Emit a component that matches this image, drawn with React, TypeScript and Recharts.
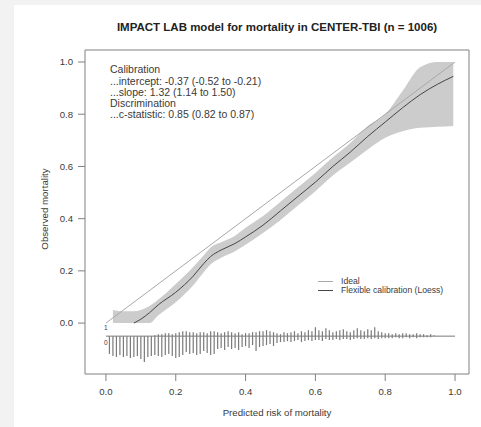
import { ComposedChart, Area, Line, XAxis, YAxis, ReferenceLine, ReferenceArea, Legend } from 'recharts'

// calibration curve (loess) with confidence band
const calX = [0.02, 0.05, 0.08, 0.1, 0.125, 0.15, 0.2, 0.25, 0.28, 0.3, 0.33, 0.37, 0.4, 0.45, 0.5, 0.55, 0.6, 0.65, 0.7, 0.75, 0.8, 0.85, 0.9, 0.95, 0.995]
const bandLo = [0, 0, 0, 0, 0, 0.03, 0.08, 0.145, 0.195, 0.225, 0.25, 0.275, 0.3, 0.345, 0.395, 0.45, 0.505, 0.565, 0.615, 0.665, 0.71, 0.735, 0.748, 0.752, 0.755]
const bandHi = [0.05, 0.045, 0.045, 0.05, 0.065, 0.09, 0.15, 0.215, 0.26, 0.29, 0.31, 0.335, 0.365, 0.41, 0.465, 0.52, 0.575, 0.635, 0.69, 0.755, 0.8, 0.89, 0.98, 1.0, 1.0]
const loess = [null, null, 0, 0.015, 0.04, 0.07, 0.118, 0.18, 0.228, 0.255, 0.28, 0.305, 0.33, 0.375, 0.43, 0.485, 0.54, 0.6, 0.655, 0.715, 0.77, 0.825, 0.875, 0.915, 0.945]

const idealX = [0, 1]
const idealY = [0, 1]

// rug of predicted risks, per 0.01 bin: deaths up (1), survivors down (0)
const rugX = [
  0.01, 0.02, 0.03, 0.04, 0.05, 0.06, 0.07, 0.08, 0.09, 0.1,
  0.11, 0.12, 0.13, 0.14, 0.15, 0.16, 0.17, 0.18, 0.19, 0.2,
  0.21, 0.22, 0.23, 0.24, 0.25, 0.26, 0.27, 0.28, 0.29, 0.3,
  0.31, 0.32, 0.33, 0.34, 0.35, 0.36, 0.37, 0.38, 0.39, 0.4,
  0.41, 0.42, 0.43, 0.44, 0.45, 0.46, 0.47, 0.48, 0.49, 0.5,
  0.51, 0.52, 0.53, 0.54, 0.55, 0.56, 0.57, 0.58, 0.59, 0.6,
  0.61, 0.62, 0.63, 0.64, 0.65, 0.66, 0.67, 0.68, 0.69, 0.7,
  0.71, 0.72, 0.73, 0.74, 0.75, 0.76, 0.77, 0.78, 0.79, 0.8,
  0.81, 0.82, 0.83, 0.84, 0.85, 0.86, 0.87, 0.88, 0.89, 0.9,
  0.91, 0.92, 0.93, 0.94, 0.95,
]
const rugDown = [
  18, 20, 21, 19, 21, 20, 22, 21, 20, 23,
  26, 21, 20, 19, 20, 21, 19, 18, 20, 22,
  21, 19, 16, 18, 17, 19, 18, 15, 17, 19,
  18, 13, 12, 14, 11, 13, 12, 14, 11, 10,
  12, 9, 15, 11, 10, 9, 8, 10, 7, 6,
  6, 5, 6, 5, 4, 6, 5, 4, 5, 4,
  4, 5, 3, 4, 4, 3, 4, 3, 3, 4,
  3, 2, 3, 3, 2, 3, 2, 3, 2, 2,
  2, 2, 1, 2, 2, 1, 2, 1, 2, 1,
  1, 1, 1, 0, 0,
]
const rugUp = [
  0, 0, 0, 0, 0, 0, 0, 0, 0, 0,
  0, 0, 0, 1, 2, 2, 3, 3, 2, 3,
  4, 5, 5, 4, 4, 3, 4, 4, 3, 5,
  5, 4, 3, 4, 5, 4, 3, 4, 2, 3,
  3, 4, 4, 5, 5, 6, 5, 4, 3, 2,
  4, 3, 4, 5, 3, 5, 4, 6, 5, 9,
  6, 5, 8, 6, 4, 5, 6, 7, 5, 4,
  6, 8, 6, 5, 7, 6, 9, 5, 4, 3,
  3, 2, 3, 2, 3, 3, 2, 2, 3, 2,
  2, 1, 2, 1, 0,
]

const ticks = [0, 0.2, 0.4, 0.6, 0.8, 1]
const legendOrder = ['Ideal', 'Flexible calibration (Loess)']
const statLines = [
  'Calibration',
  '...intercept: -0.37 (-0.52 to -0.21)',
  '...slope: 1.32 (1.14 to 1.50)',
  'Discrimination',
  '...c-statistic: 0.85 (0.82 to 0.87)',
]

const RUG_BASE = -0.05
const RUG_UNIT = 0.0038
const FONT = '"Liberation Sans", Arial, sans-serif'
const TEXT = '#3a3a3a'
const BOX = '#808080'
const RUG = '#7a7a7a'

const data = calX.map((x, i) => ({ x, band: [bandLo[i], bandHi[i]], loess: loess[i] }))
const idealData = idealX.map((x, i) => ({ x, y: idealY[i] }))

function LegendBox({ payload }: any) {
  const items = (payload || [])
    .filter((p: any) => legendOrder.includes(p.value))
    .sort((a: any, b: any) => legendOrder.indexOf(a.value) - legendOrder.indexOf(b.value))
  return (
    <div style={{ fontFamily: FONT, fontSize: 8.6, color: TEXT, lineHeight: '9px' }}>
      {items.map((p: any) => (
        <div key={p.value} style={{ display: 'flex', alignItems: 'center', height: 9 }}>
          <span style={{ width: 15, borderTop: `1px solid ${p.color}`, marginRight: 8 }} />
          <span>{p.value}</span>
        </div>
      ))}
    </div>
  )
}

export default function App() {
  const tickStyle = { fontSize: 9.6, fill: TEXT, fontFamily: FONT }
  return (
    <div style={{ position: 'absolute', left: 0, top: 0, width: 481, height: 427, background: '#f2f2f2', fontFamily: FONT }}>
      <div style={{ position: 'absolute', left: 14, top: 5, width: 467, height: 422, background: '#ffffff' }}>
        <ComposedChart width={467} height={422} data={data} margin={{ top: 45, right: 12, bottom: 23, left: 31 }}>
          <XAxis
            type="number"
            dataKey="x"
            domain={[-0.06, 1.04]}
            ticks={ticks}
            tickFormatter={(v: number) => v.toFixed(1)}
            axisLine={false}
            tickSize={7}
            tickMargin={7}
            tickLine={{ stroke: BOX }}
            tick={tickStyle}
            height={30}
            allowDataOverflow
          />
          <YAxis
            type="number"
            domain={[-0.195, 1.046]}
            ticks={ticks}
            tickFormatter={(v: number) => v.toFixed(1)}
            axisLine={false}
            tickSize={7}
            tickMargin={5}
            tickLine={{ stroke: BOX }}
            tick={tickStyle}
            width={40}
            allowDataOverflow
          />
          <Area
            dataKey="band"
            name="band"
            type="monotone"
            stroke="none"
            fill="#cccccc"
            fillOpacity={1}
            legendType="none"
            isAnimationActive={false}
          />
          <Line
            data={idealData}
            dataKey="y"
            name="Ideal"
            type="linear"
            stroke="#a8a8a8"
            strokeWidth={1}
            dot={false}
            isAnimationActive={false}
          />
          <Line
            dataKey="loess"
            name="Flexible calibration (Loess)"
            type="monotone"
            stroke="#454545"
            strokeWidth={1}
            dot={false}
            isAnimationActive={false}
          />
          <ReferenceLine
            segment={[{ x: 0, y: RUG_BASE }, { x: 1, y: RUG_BASE }]}
            stroke={RUG}
            strokeWidth={1}
            ifOverflow="visible"
          />
          {rugX.map((x, i) =>
            rugDown[i] > 0 ? (
              <ReferenceLine
                key={`d${i}`}
                segment={[{ x, y: RUG_BASE }, { x, y: RUG_BASE - rugDown[i] * RUG_UNIT }]}
                stroke={RUG}
                strokeWidth={1.2}
                ifOverflow="visible"
              />
            ) : null,
          )}
          {rugX.map((x, i) =>
            rugUp[i] > 0 ? (
              <ReferenceLine
                key={`u${i}`}
                segment={[{ x, y: RUG_BASE }, { x, y: RUG_BASE + rugUp[i] * RUG_UNIT }]}
                stroke={RUG}
                strokeWidth={1.2}
                ifOverflow="visible"
              />
            ) : null,
          )}
          <ReferenceArea x1={-0.06} x2={1.04} y1={-0.195} y2={1.046} fill="none" stroke={BOX} strokeWidth={1} ifOverflow="visible" />
          <Legend
            layout="vertical"
            align="center"
            verticalAlign="middle"
            wrapperStyle={{ left: 304, top: 272, width: 150 }}
            content={<LegendBox />}
          />
        </ComposedChart>
      </div>

      <div style={{ position: 'absolute', left: 277, top: 22, transform: 'translateX(-50%)', whiteSpace: 'nowrap', fontSize: 11.5, fontWeight: 'bold', lineHeight: 1, color: '#222' }}>
        IMPACT LAB model for mortality in CENTER-TBI (n = 1006)
      </div>
      <div style={{ position: 'absolute', left: 110, top: 64.4, fontSize: 10.5, lineHeight: '11.25px', color: TEXT, whiteSpace: 'nowrap' }}>
        {statLines.map((s) => (
          <div key={s}>{s}</div>
        ))}
      </div>
      <div style={{ position: 'absolute', left: 277, top: 408, transform: 'translateX(-50%)', whiteSpace: 'nowrap', fontSize: 9.7, lineHeight: 1, color: TEXT }}>
        Predicted risk of mortality
      </div>
      <div style={{ position: 'absolute', left: 45, top: 209, transform: 'translate(-50%, -50%) rotate(-90deg)', whiteSpace: 'nowrap', fontSize: 9.7, lineHeight: 1, color: TEXT }}>
        Observed mortality
      </div>
      <div style={{ position: 'absolute', left: 104, top: 325, fontSize: 6.5, lineHeight: 1, color: TEXT }}>1</div>
      <div style={{ position: 'absolute', left: 104, top: 339.5, fontSize: 6.5, lineHeight: 1, color: TEXT }}>0</div>
    </div>
  )
}
